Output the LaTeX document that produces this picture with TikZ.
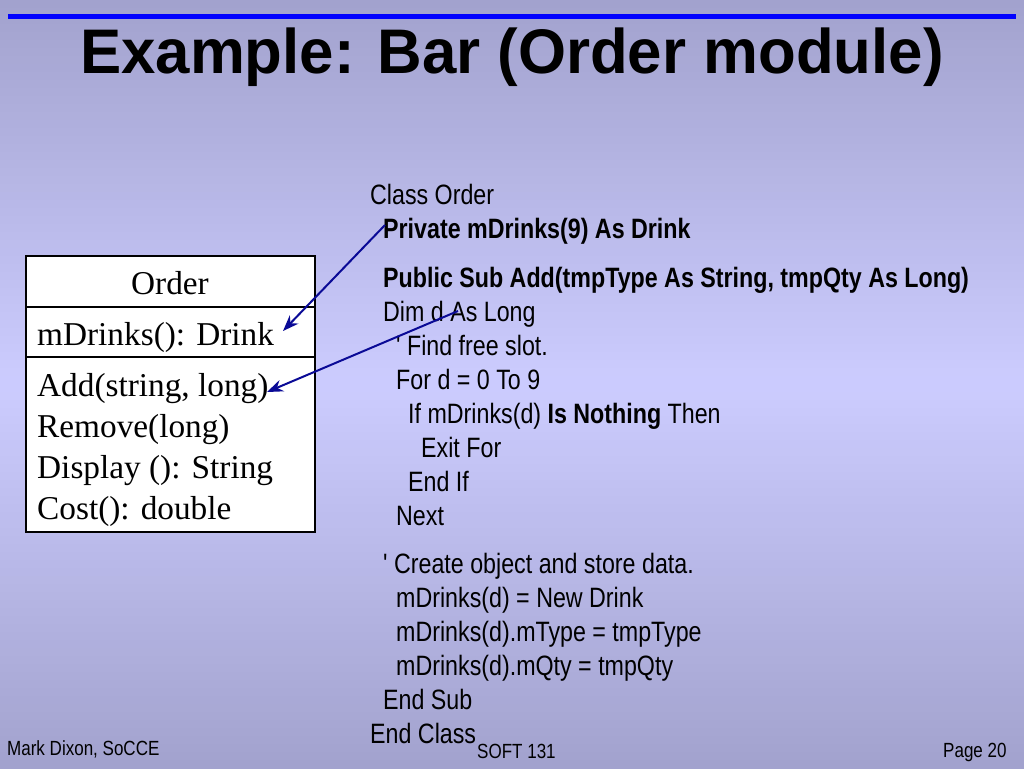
\documentclass[tikz,border=0pt]{standalone}
\usepackage{fontspec}
\usetikzlibrary{arrows.meta}
\newfontfamily\codefont{Liberation Sans}[FakeStretch=0.83]
\newfontfamily\titlefont{Liberation Sans}[FakeStretch=0.98]
\newfontfamily\umlfont{Liberation Serif}
\definecolor{bgedge}{RGB}{162,162,205}
\definecolor{bgmid}{RGB}{204,204,255}
\definecolor{arrowblue}{RGB}{10,10,150}
\begin{document}
\begin{tikzpicture}[x=1pt,y=-1pt,
  code/.style={anchor=base west,inner sep=0pt,font=\codefont\fontsize{28}{34}\selectfont},
  foot/.style={anchor=base west,inner sep=0pt,font=\codefont\fontsize{20.5}{24}\selectfont},
  uml/.style={anchor=base west,inner sep=0pt,font=\umlfont\fontsize{33.3}{41}\selectfont},
  link/.style={draw=arrowblue,line width=2pt,-{Stealth[length=16pt,width=12pt]}}]
\useasboundingbox (0,0) rectangle (1024,768);
% background gradient: edge -> light middle -> edge
\foreach \i in {0,...,95}{
  \pgfmathsetmacro{\t}{abs(\i*8+4-384)/384*100}
  \fill[bgedge!\t!bgmid] (0,\i*8) rectangle (1024,\i*8+8.6);
}
% top rule
\fill[blue] (8,14) rectangle (1016,19);
% title
\node[anchor=base west,inner sep=0pt,font=\titlefont\bfseries\fontsize{63}{70}\selectfont] (title) at (80,74) {Example: Bar (Order module)};
% UML class box
\draw[line width=1.5pt,fill=white] (26,256) rectangle (315,532);
\draw[line width=1.5pt] (26,307) -- (315,307);
\draw[line width=1.5pt] (26,357) -- (315,357);
\node[anchor=base,inner sep=0pt,font=\umlfont\fontsize{33.3}{41}\selectfont] (cname) at (170,294) {Order};
\node[uml] (mdr) at (37,345) {mDrinks(): Drink};
\node[uml] (madd) at (37,396) {Add(string, long)};
\node[uml] (mrem) at (37,437) {Remove(long)};
\node[uml] (mdis) at (37,478) {Display (): String};
\node[uml] (mcost) at (37,519) {Cost(): double};
% code
\node[code] (c1) at (370,204) {Class Order};
\node[code] (c2) at (383,238) {\bfseries Private mDrinks(9) As Drink};
\node[code] (c3) at (383,287) {\bfseries Public Sub Add(tmpType As String, tmpQty As Long)};
\node[code] (c4) at (383,321) {Dim d As Long};
\node[code] (c5) at (396,355) {' Find free slot.};
\node[code] (c6) at (396,389) {For d = 0 To 9};
\node[code] (c7) at (408,423) {If mDrinks(d) \textbf{Is Nothing} Then};
\node[code] (c8) at (421,457) {Exit For};
\node[code] (c9) at (408,491) {End If};
\node[code] (c10) at (396,525) {Next};
\node[code] (c11) at (383,573) {' Create object and store data.};
\node[code] (c12) at (396,607) {mDrinks(d) = New Drink};
\node[code] (c13) at (396,641) {mDrinks(d).mType = tmpType};
\node[code] (c14) at (396,675) {mDrinks(d).mQty = tmpQty};
\node[code] (c15) at (383,709) {End Sub};
\node[code] (c16) at (370,743) {End Class};
% footer
\node[foot] (fl) at (7,755) {Mark Dixon, SoCCE};
\node[foot] (fc) at (477,758) {SOFT 131};
\node[foot] (fr) at (943,757) {Page 20};
% arrows
\coordinate (a1s) at (385,225);
\coordinate (a1e) at (283,331);
\coordinate (a2s) at (458,311);
\coordinate (a2e) at (267,392);
\draw[link] (a1s) -- (a1e);
\draw[link] (a2s) -- (a2e);
\end{tikzpicture}
\end{document}
